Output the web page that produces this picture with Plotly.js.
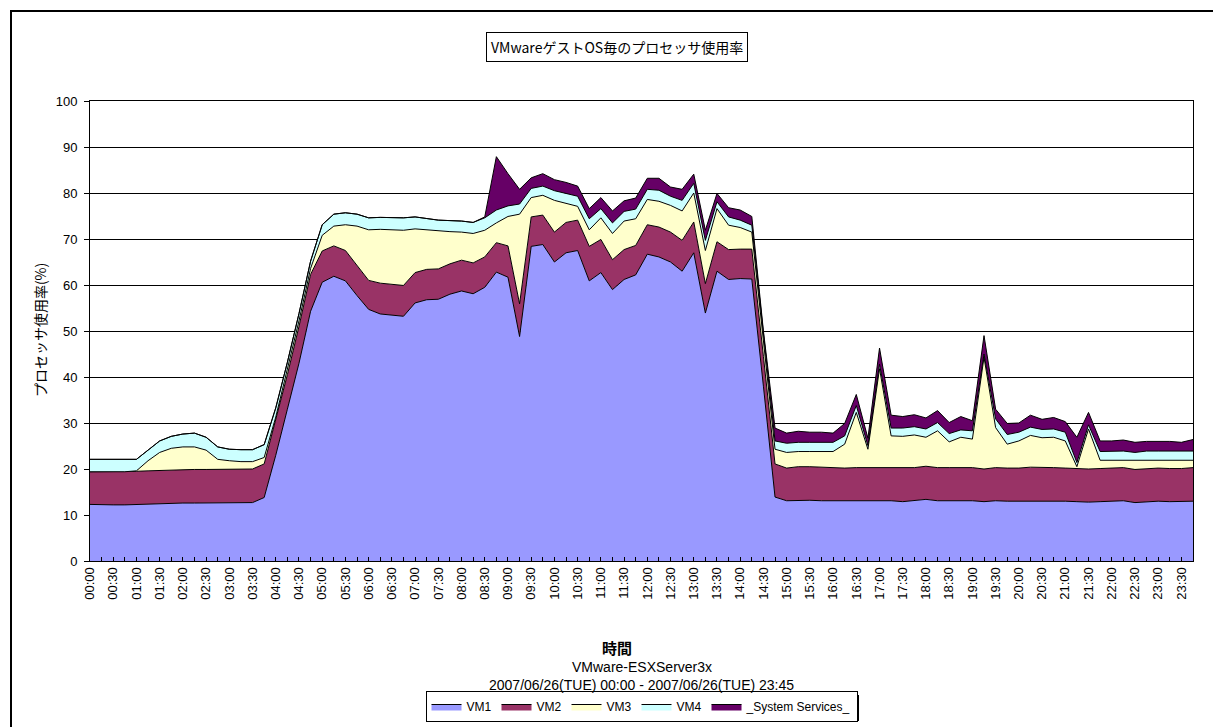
<!DOCTYPE html>
<html>
<head>
<meta charset="utf-8">
<script src="https://cdn.plot.ly/plotly-3.0.1.min.js"></script>
<style>
  html, body { margin: 0; padding: 0; background: #fff; }
  #chart { position: absolute; left: 0; top: 0; width: 1213px; height: 727px; }
  #frame { position: absolute; left: 10px; top: 10px; width: 1220px; height: 740px;
           border-left: 2px solid #000; border-top: 2px solid #000; pointer-events: none; }
</style>
</head>
<body>
<div id="chart"></div>
<div id="frame"></div>
<script>
const categories = [
  "00:00","00:15","00:30","00:45","01:00","01:15","01:30","01:45","02:00","02:15","02:30","02:45",
  "03:00","03:15","03:30","03:45","04:00","04:15","04:30","04:45","05:00","05:15","05:30","05:45",
  "06:00","06:15","06:30","06:45","07:00","07:15","07:30","07:45","08:00","08:15","08:30","08:45",
  "09:00","09:15","09:30","09:45","10:00","10:15","10:30","10:45","11:00","11:15","11:30","11:45",
  "12:00","12:15","12:30","12:45","13:00","13:15","13:30","13:45","14:00","14:15","14:30","14:45",
  "15:00","15:15","15:30","15:45","16:00","16:15","16:30","16:45","17:00","17:15","17:30","17:45",
  "18:00","18:15","18:30","18:45","19:00","19:15","19:30","19:45","20:00","20:15","20:30","20:45",
  "21:00","21:15","21:30","21:45","22:00","22:15","22:30","22:45","23:00","23:15","23:30","23:45"
];

const vm1 = [
  12.3,12.2,12.2,12.2,12.3,12.3,12.4,12.6,12.6,12.6,
  12.6,12.6,12.6,12.6,12.7,13.8,23.0,33.0,43.0,54.3,
  60.6,61.9,60.9,57.7,54.7,53.7,53.4,53.2,56.1,56.8,
  56.9,58.0,58.7,58.1,59.5,62.8,61.7,48.8,68.4,68.8,
  65.0,67.0,67.5,60.9,62.7,59.0,61.2,62.2,66.7,66.1,
  65.0,63.0,67.0,53.9,63.0,61.2,61.4,61.3,38.0,13.9,
  13.1,13.2,13.2,13.1,13.1,13.0,13.0,13.1,13.0,13.1,
  12.9,13.1,13.4,13.1,13.1,13.1,13.1,12.9,13.1,13.0,
  13.0,13.1,13.1,13.1,13.0,12.9,12.8,12.9,13.0,13.1,
  12.7,12.9,13.0,12.9,12.9,13.0
];
const vm2 = [
  7.1,7.2,7.2,7.2,7.2,7.3,7.3,7.2,7.3,7.3,
  7.3,7.3,7.3,7.3,7.3,7.3,7.5,7.5,8.0,8.0,
  6.8,6.6,6.6,6.6,6.3,6.7,6.7,6.7,6.6,6.6,
  6.6,6.6,6.7,6.7,6.6,6.4,6.8,7.1,6.4,6.4,
  6.5,6.6,6.6,7.5,7.2,6.5,6.5,6.4,6.4,6.5,
  6.5,6.7,6.7,6.4,6.4,6.5,6.4,6.5,6.5,7.2,
  7.1,7.3,7.3,7.3,7.1,7.2,7.3,7.2,7.2,7.2,
  7.3,7.2,7.2,7.2,7.2,7.2,7.2,7.1,7.2,7.2,
  7.2,7.3,7.3,7.2,7.2,7.2,7.2,7.2,7.2,7.2,
  7.2,7.1,7.2,7.2,7.2,7.3
];
const vm3 = [
  0,0,0,0,0.1,2.2,3.9,4.7,4.9,4.9,
  4.2,2.2,1.9,1.7,1.6,1.4,0.8,1.0,1.2,1.3,
  3.4,4.3,5.6,8.5,11.0,11.7,11.9,12.0,9.5,8.6,
  8.2,7.0,6.1,6.4,5.8,4.3,6.4,19.5,4.2,4.3,
  6.9,4.1,3.0,3.6,4.7,5.7,6.2,5.8,5.5,5.6,
  5.8,6.4,6.3,7.2,7.2,5.3,4.7,3.7,3.0,3.2,
  3.4,3.3,3.3,3.4,3.6,5.2,12.0,4.0,21.6,6.9,
  6.9,7.1,6.3,8.0,5.6,6.6,6.2,24.3,8.7,5.2,
  5.9,6.9,6.4,6.6,5.9,0.4,8.7,1.8,1.7,1.6,
  1.9,1.9,1.7,1.8,1.8,1.6
];
const vm4 = [
  2.7,2.7,2.7,2.7,2.5,2.3,2.5,2.6,2.8,3.0,
  2.8,2.7,2.5,2.6,2.6,2.8,2.0,1.7,1.6,1.6,
  2.3,2.6,2.6,2.6,2.6,2.6,2.7,2.7,2.6,2.4,
  2.4,2.4,2.4,2.4,2.7,2.8,2.3,2.2,2.0,2.0,
  2.1,2.2,2.2,2.4,2.0,2.3,2.1,2.1,2.2,2.4,
  2.0,2.3,2.1,2.2,1.5,1.8,1.6,1.5,1.5,1.8,
  2.0,2.0,2.0,2.0,2.0,1.8,1.5,0.8,1.0,1.7,
  1.8,1.8,1.8,1.8,1.8,1.6,1.8,0.7,1.9,2.1,
  1.9,1.8,1.8,1.8,1.9,0.9,0.9,1.9,2.0,2.0,
  1.8,2.0,2.0,2.0,2.0,2.0
];
const sysServices = [
  0,0,0,0,0,0,0,0,0,0,
  0,0,0,0,0,0,0,0,0,0,
  0,0,0,0,0,0,0,0,0,0,
  0,0,0,0,0.2,11.6,7.0,3.2,2.3,2.7,
  2.4,2.4,2.2,2.2,2.4,2.6,2.3,2.4,2.4,2.6,
  2.0,2.4,2.0,2.2,1.8,2.0,2.2,1.9,1.0,2.8,
  2.2,2.4,2.2,2.2,2.0,2.7,2.4,1.6,3.5,2.8,
  2.5,2.6,2.4,2.6,2.4,2.9,2.2,4.0,2.1,2.4,
  2.0,2.6,2.2,2.5,2.3,5.5,2.7,2.3,2.2,2.4,
  2.2,2.1,2.1,2.1,1.9,2.5
];

const seriesNames = ["VM1", "VM2", "VM3", "VM4", "_System Services_"];
const seriesColors = ["#9999FF", "#993366", "#FFFFCC", "#CCFFFF", "#660066"];
const seriesValues = [vm1, vm2, vm3, vm4, sysServices];

const tickLabels = categories.map(c => (c.endsWith(":00") || c.endsWith(":30")) ? c : "");

const traces = seriesNames.map((name, k) => ({
  type: "scatter",
  mode: "lines",
  name: name,
  x: categories,
  y: seriesValues[k],
  stackgroup: "one",
  fillcolor: seriesColors[k],
  line: { color: "#000000", width: 1 },
  hoverinfo: "x+y+name"
}));

const baseFont = "'Liberation Sans', Arial, 'Noto Sans CJK JP', sans-serif";
const jpFont = "'Noto Sans CJK JP', 'Liberation Sans', sans-serif";

const layout = {
  width: 1213,
  height: 727,
  margin: { l: 90, r: 20, t: 101, b: 166 },
  paper_bgcolor: "#ffffff",
  plot_bgcolor: "#ffffff",
  font: { family: baseFont, size: 13, color: "#000" },
  showlegend: true,
  legend: {
    orientation: "h",
    xref: "paper",
    x: 0.5, xanchor: "center",
    yref: "container",
    y: 0.0495, yanchor: "top",
    traceorder: "normal",
    bgcolor: "#ffffff",
    bordercolor: "#000000",
    borderwidth: 1,
    font: { family: baseFont, size: 12, color: "#000" },
    itemwidth: 30
  },
  xaxis: {
    type: "category",
    range: [0, categories.length - 1],
    tickmode: "array",
    tickvals: categories,
    ticktext: tickLabels,
    tickangle: -90,
    ticks: "inside",
    ticklen: 4,
    tickcolor: "#000",
    showgrid: false,
    showline: true,
    linecolor: "#000",
    linewidth: 1,
    mirror: true,
    zeroline: false,
    automargin: false,
    tickfont: { family: baseFont, size: 13, color: "#000" }
  },
  yaxis: {
    range: [0, 100],
    tickmode: "linear",
    tick0: 0,
    dtick: 10,
    ticks: "outside",
    ticklen: 5,
    tickcolor: "#000",
    showgrid: true,
    gridcolor: "#000000",
    gridwidth: 1,
    showline: true,
    linecolor: "#000",
    linewidth: 1,
    mirror: true,
    zeroline: false,
    automargin: false,
    ticklabelstandoff: 4,
    tickfont: { family: baseFont, size: 13, color: "#000" }
  },
  shapes: [
    {
      type: "rect", xref: "paper", yref: "paper",
      x0: 0.3092, x1: 0.6972, y0: -0.3478, y1: -0.2913,
      fillcolor: "#000", line: { width: 0 }, layer: "above"
    }
  ],
  annotations: [
    {
      text: "VMwareゲストOS毎のプロセッサ使用率",
      xref: "paper", yref: "paper", x: 0.478, y: 1.117,
      xanchor: "center", yanchor: "middle", showarrow: false,
      font: { family: jpFont, size: 14, color: "#000" },
      bordercolor: "#000", borderwidth: 1, borderpad: 4, bgcolor: "#fff"
    },
    {
      text: "プロセッサ使用率(%)",
      xref: "paper", yref: "paper", x: -0.0453, y: 0.502,
      xanchor: "center", yanchor: "middle", showarrow: false, textangle: -90,
      font: { family: jpFont, size: 14, color: "#000" }
    },
    {
      text: "<b>時間</b>",
      xref: "paper", yref: "paper", x: 0.478, y: -0.189,
      xanchor: "center", yanchor: "middle", showarrow: false,
      font: { family: jpFont, size: 15, color: "#000" }
    },
    {
      text: "VMware-ESXServer3x",
      xref: "paper", yref: "paper", x: 0.5, y: -0.230,
      xanchor: "center", yanchor: "middle", showarrow: false,
      font: { family: baseFont, size: 14, color: "#000" }
    },
    {
      text: "2007/06/26(TUE) 00:00 - 2007/06/26(TUE) 23:45",
      xref: "paper", yref: "paper", x: 0.5, y: -0.270,
      xanchor: "center", yanchor: "middle", showarrow: false,
      font: { family: baseFont, size: 14, color: "#000" }
    }
  ]
};

Plotly.newPlot("chart", traces, layout, { displayModeBar: false, staticPlot: true });
</script>
</body>
</html>
